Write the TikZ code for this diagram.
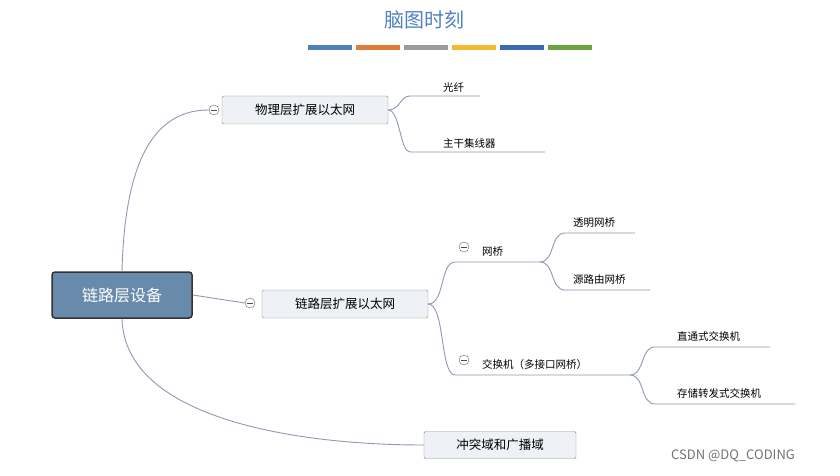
\documentclass[tikz,border=0pt]{standalone}
\usepackage{fontspec}
\setmainfont{Noto Sans CJK SC}
\definecolor{lc}{HTML}{8C9BB0}
\definecolor{bf}{HTML}{EEF1F5}
\begin{document}
\begin{tikzpicture}[x=1pt,y=-1pt,
 box/.style={draw=black!45,fill=bf,rounded corners=1.5pt,font=\fontsize{12.5}{14}\selectfont,inner sep=0pt},
 lbl/.style={font=\fontsize{10.5}{12}\selectfont,inner sep=1pt},
 ln/.style={draw=lc,line width=0.9pt},
 circ/.style={draw=black!60,fill=white,circle,minimum size=10pt,inner sep=0pt,path picture={\draw[black!70] ([xshift=-3pt]path picture bounding box.center)--([xshift=3pt]path picture bounding box.center);}}]
\useasboundingbox (0,0) rectangle (840,476);
\fill[white] (0,0) rectangle (840,476);
\node[font=\fontsize{20}{22}\selectfont,text={rgb,255:red,80;green,130;blue,190}] (title) at (424,20) {脑图时刻};
\foreach \x/\c in {308/4F81BD,356/E07B39,404/9B9B9B,452/F6B92B,500/3A68B5,548/6AA33F}{
 \definecolor{tmp}{HTML}{\c}\fill[tmp] (\x,45) rectangle ++(44,5);}
\node[draw=black!80,line width=1.5pt,fill={rgb,255:red,104;green,139;blue,172},rounded corners=3pt,minimum width=140pt,minimum height=46pt,text=white,font=\fontsize{16}{18}\selectfont] (root) at (122,295) {链路层设备};
\node[box,minimum width=166pt,minimum height=28pt] (phy) at (305,110) {物理层扩展以太网};
\node[box,minimum width=166pt,minimum height=28pt] (lnk) at (345,304) {链路层扩展以太网};
\node[box,minimum width=152pt,minimum height=27pt] (col) at (500,445) {冲突域和广播域};
\node[circ] (c1) at (214,110) {};
\node[circ] (c2) at (250,303) {};
\draw[ln] (root.north) .. controls (125,150) and (160,110) .. (c1.west);
\draw[ln] (root.east) -- (c2.west);
\draw[ln] (root.south) .. controls (125,420) and (300,445) .. (col.west);
\coordinate (g1) at (410,96); \coordinate (g1e) at (480,96);
\coordinate (g2) at (410,152); \coordinate (g2e) at (545,152);
\node[lbl,anchor=south west] (t1) at (442,94) {光纤};
\node[lbl,anchor=south west] (t2) at (442,150) {主干集线器};
\draw[ln] (phy.east) .. controls (400,110) and (400,96) .. (g1) -- (g1e);
\draw[ln] (phy.east) .. controls (400,110) and (400,152) .. (g2) -- (g2e);
\coordinate (b1) at (455,262); \coordinate (b1e) at (540,262);
\coordinate (s1) at (455,375); \coordinate (s1e) at (630,375);
\draw[ln] (lnk.east) .. controls (445,304) and (440,262) .. (b1) -- (b1e);
\draw[ln] (lnk.east) .. controls (445,304) and (440,375) .. (s1) -- (s1e);
\node[circ] (c3) at (464,247) {};
\node[circ] (c4) at (464,360) {};
\node[lbl,anchor=south west] (t3) at (481,258) {网桥};
\node[lbl,anchor=south west] (t4) at (481,371) {交换机（多接口网桥）};
\coordinate (a1) at (565,233); \coordinate (a1e) at (635,233);
\coordinate (a2) at (565,290); \coordinate (a2e) at (650,290);
\draw[ln] (b1e) .. controls (555,262) and (550,233) .. (a1) -- (a1e);
\draw[ln] (b1e) .. controls (555,262) and (550,290) .. (a2) -- (a2e);
\node[lbl,anchor=south west] (t5) at (572,229) {透明网桥};
\node[lbl,anchor=south west] (t6) at (572,286) {源路由网桥};
\coordinate (d1) at (655,347); \coordinate (d1e) at (770,347);
\coordinate (d2) at (655,404); \coordinate (d2e) at (795,404);
\draw[ln] (s1e) .. controls (645,375) and (640,347) .. (d1) -- (d1e);
\draw[ln] (s1e) .. controls (645,375) and (640,404) .. (d2) -- (d2e);
\node[lbl,anchor=south west] (t7) at (676,343) {直通式交换机};
\node[lbl,anchor=south west] (t8) at (676,400) {存储转发式交换机};
\node[font=\fontsize{13}{15}\selectfont,text=black!55] (wm) at (733,456) {CSDN @DQ\_CODING};
\end{tikzpicture}
\end{document}
